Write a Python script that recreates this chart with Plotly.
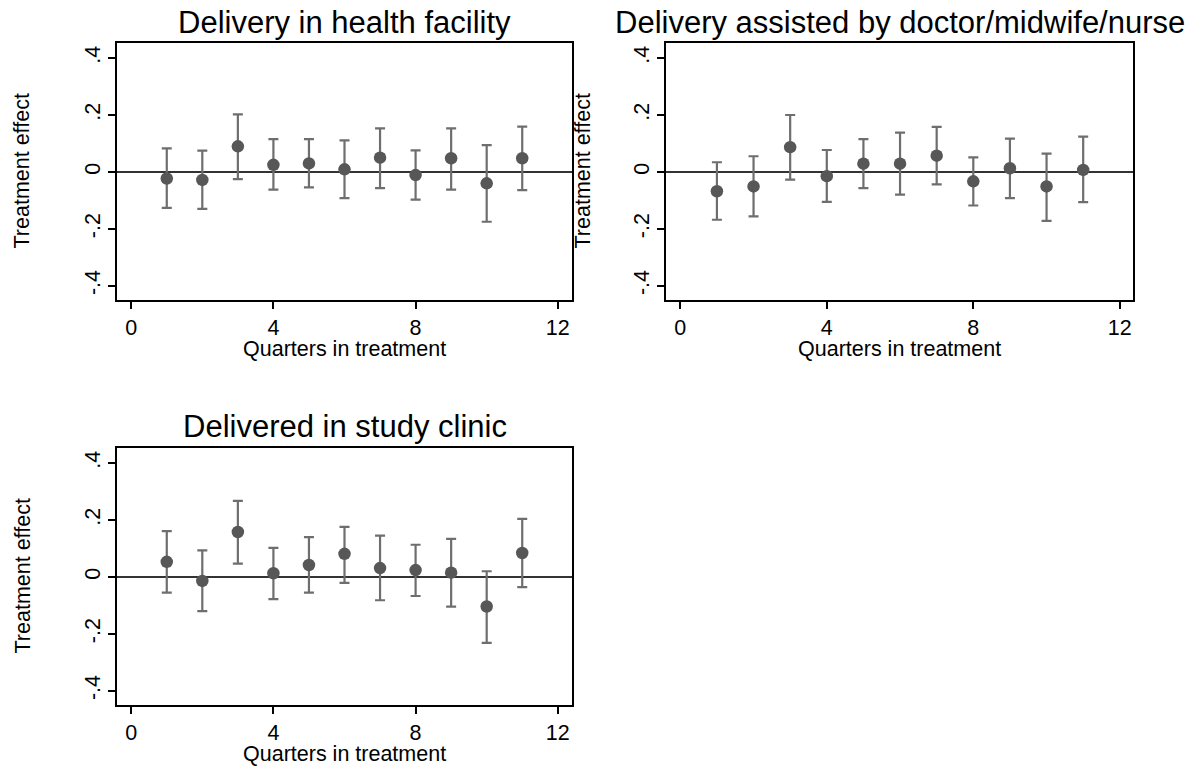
import plotly.graph_objects as go

quarters = [1, 2, 3, 4, 5, 6, 7, 8, 9, 10, 11]

titles = ["Delivery in health facility",
          "Delivery assisted by doctor/midwife/nurse",
          "Delivered in study clinic"]

# Panel 1: Delivery in health facility
est1 = [-0.023, -0.028, 0.090, 0.025, 0.030, 0.009, 0.050, -0.011, 0.048, -0.040, 0.048]
up1 = [0.083, 0.075, 0.202, 0.115, 0.115, 0.111, 0.153, 0.076, 0.153, 0.094, 0.159]
lo1 = [-0.126, -0.130, -0.025, -0.062, -0.054, -0.092, -0.057, -0.097, -0.062, -0.175, -0.064]

# Panel 2: Delivery assisted by doctor/midwife/nurse
est2 = [-0.068, -0.051, 0.087, -0.015, 0.029, 0.029, 0.057, -0.033, 0.013, -0.051, 0.007]
up2 = [0.034, 0.055, 0.200, 0.077, 0.115, 0.138, 0.158, 0.051, 0.117, 0.064, 0.124]
lo2 = [-0.168, -0.156, -0.027, -0.105, -0.057, -0.080, -0.044, -0.118, -0.092, -0.172, -0.106]

# Panel 3: Delivered in study clinic
est3 = [0.053, -0.014, 0.158, 0.013, 0.042, 0.081, 0.031, 0.024, 0.015, -0.104, 0.084]
up3 = [0.161, 0.093, 0.267, 0.102, 0.140, 0.176, 0.145, 0.113, 0.134, 0.020, 0.204]
lo3 = [-0.055, -0.120, 0.047, -0.078, -0.055, -0.021, -0.082, -0.067, -0.104, -0.232, -0.036]

x_ticks = [0, 4, 8, 12]
y_ticks = [-0.4, -0.2, 0, 0.2, 0.4]
y_ticktext = ["-.4", "-.2", "0", ".2", ".4"]

W, H = 1197, 766
FONT = "Liberation Sans, Arial, sans-serif"

panels = [
    dict(est=est1, up=up1, lo=lo1, box=(117, 572, 43, 300), xr=[-0.4, 12.4], yt=22),
    dict(est=est2, up=up2, lo=lo2, box=(666, 1133, 43, 300), xr=[-0.39, 12.36], yt=583),
    dict(est=est3, up=up3, lo=lo3, box=(117, 572, 448, 705), xr=[-0.4, 12.4], yt=22),
]

fig = go.Figure()
layout = dict(
    width=W, height=H,
    margin=dict(l=0, r=0, t=0, b=0),
    paper_bgcolor="white", plot_bgcolor="white",
    showlegend=False,
    font=dict(family=FONT, color="black"),
    annotations=[],
)

for i, p in enumerate(panels):
    n = "" if i == 0 else str(i + 1)
    xa, ya = "x" + n, "y" + n
    l, r, t, b = p["box"]
    fig.add_trace(go.Scatter(
        x=quarters, y=p["est"], mode="markers",
        xaxis=xa, yaxis=ya,
        marker=dict(size=12.5, color="#575757"),
        error_y=dict(type="data", symmetric=False,
                     array=[u - e for u, e in zip(p["up"], p["est"])],
                     arrayminus=[e - lo for e, lo in zip(p["est"], p["lo"])],
                     color="#6e6e6e", thickness=2.2, width=5),
    ))
    layout["xaxis" + n] = dict(
        domain=[l / W, r / W], anchor=ya, range=p["xr"],
        tickvals=x_ticks, ticks="outside", ticklen=7, tickwidth=1.5, tickcolor="black",
        showline=True, mirror=True, linecolor="black", linewidth=1.5,
        showgrid=False, zeroline=False,
        tickfont=dict(size=21.5, family=FONT, color="black"),
    )
    layout["yaxis" + n] = dict(
        domain=[1 - b / H, 1 - t / H], anchor=xa, range=[-0.45, 0.453],
        tickvals=y_ticks, ticktext=y_ticktext, tickangle=-90,
        ticks="outside", ticklen=7, tickwidth=1.5, tickcolor="black",
        showline=True, mirror=True, linecolor="black", linewidth=1.5,
        showgrid=False, zeroline=True, zerolinecolor="#333333", zerolinewidth=2,
        tickfont=dict(size=21.5, family=FONT, color="black"),
    )
    cx = (l + r) / 2
    layout["annotations"] += [
        dict(text=titles[i], x=cx / W, y=1 - (t - 21) / H, xref="paper", yref="paper",
             showarrow=False, font=dict(size=31, family=FONT, color="black"),
             xanchor="center", yanchor="middle"),
        dict(text="Quarters in treatment", x=cx / W, y=1 - (b + 49) / H,
             xref="paper", yref="paper", showarrow=False,
             font=dict(size=21.5, family=FONT, color="black"),
             xanchor="center", yanchor="middle"),
        dict(text="Treatment effect", x=p["yt"] / W, y=1 - ((t + b) / 2) / H,
             xref="paper", yref="paper", showarrow=False, textangle=-90,
             font=dict(size=21.5, family=FONT, color="black"),
             xanchor="center", yanchor="middle"),
    ]

fig.update_layout(**layout)
fig.write_html("out.html", config={"displayModeBar": False},
               post_script="document.body.style.margin='0';document.body.style.overflow='hidden';")
